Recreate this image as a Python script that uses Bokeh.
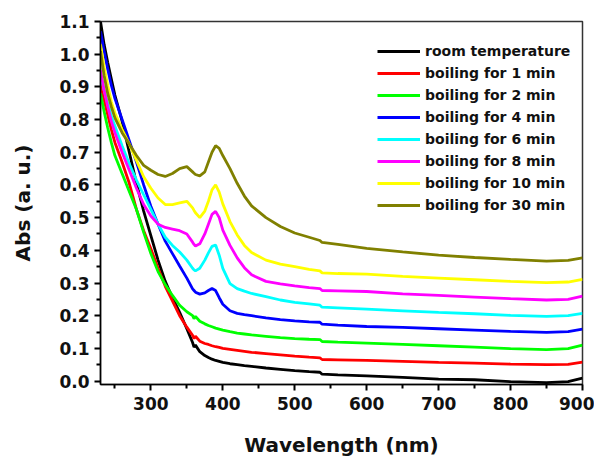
from bokeh.plotting import figure
from bokeh.models import Legend, LegendItem, FixedTicker, Range1d
from bokeh.embed import file_html
from bokeh.resources import INLINE

wavelength = [230, 235, 240, 245, 250, 260, 270, 280, 290, 300, 310, 320, 330, 340, 350,
              358, 360, 362, 368, 375, 380, 385, 390, 395, 400, 410, 420, 430, 440, 460,
              480, 500, 520, 535, 538, 560, 600, 650, 700, 750, 800, 850, 880, 900]

room_temperature = [1.10, 1.03, 0.975, 0.925, 0.875, 0.795, 0.70, 0.605, 0.52, 0.445, 0.37, 0.305,
                    0.255, 0.21, 0.16, 0.118, 0.104, 0.110, 0.090, 0.078, 0.072, 0.067, 0.063,
                    0.060, 0.057, 0.053, 0.050, 0.047, 0.045, 0.040, 0.036, 0.032, 0.029, 0.027,
                    0.021, 0.019, 0.016, 0.011, 0.006, 0.004, -0.002, -0.005, -0.002, 0.009]
boil_1 = [0.91, 0.86, 0.815, 0.77, 0.73, 0.67, 0.605, 0.525, 0.46, 0.405, 0.345, 0.29, 0.245,
          0.20, 0.165, 0.140, 0.130, 0.137, 0.122, 0.115, 0.112, 0.108, 0.105, 0.103, 0.100,
          0.097, 0.094, 0.091, 0.088, 0.084, 0.080, 0.076, 0.073, 0.071, 0.066, 0.065, 0.063,
          0.060, 0.057, 0.055, 0.052, 0.050, 0.051, 0.058]
boil_2 = [0.88, 0.825, 0.775, 0.73, 0.69, 0.635, 0.58, 0.525, 0.455, 0.39, 0.335, 0.295, 0.262,
          0.232, 0.212, 0.200, 0.191, 0.198, 0.183, 0.175, 0.170, 0.166, 0.162, 0.159, 0.156,
          0.151, 0.147, 0.144, 0.141, 0.137, 0.133, 0.130, 0.128, 0.127, 0.121, 0.119, 0.116,
          0.112, 0.108, 0.104, 0.099, 0.096, 0.099, 0.110]
boil_4 = [1.07, 1.01, 0.955, 0.905, 0.865, 0.80, 0.735, 0.67, 0.60, 0.535, 0.48, 0.428, 0.39,
          0.352, 0.315, 0.282, 0.277, 0.272, 0.266, 0.270, 0.277, 0.283, 0.277, 0.255, 0.235,
          0.215, 0.207, 0.203, 0.200, 0.193, 0.188, 0.184, 0.181, 0.180, 0.174, 0.171, 0.167,
          0.164, 0.160, 0.156, 0.152, 0.149, 0.151, 0.159]
boil_6 = [0.94, 0.89, 0.85, 0.81, 0.78, 0.72, 0.665, 0.615, 0.57, 0.525, 0.48, 0.44, 0.415,
          0.395, 0.37, 0.345, 0.340, 0.337, 0.345, 0.370, 0.392, 0.412, 0.416, 0.385, 0.345,
          0.298, 0.283, 0.275, 0.268, 0.258, 0.248, 0.241, 0.236, 0.232, 0.226, 0.224, 0.220,
          0.215, 0.210, 0.206, 0.201, 0.198, 0.200, 0.207]
boil_8 = [0.95, 0.89, 0.84, 0.795, 0.76, 0.70, 0.645, 0.59, 0.54, 0.505, 0.48, 0.47, 0.465,
          0.46, 0.45, 0.425, 0.418, 0.413, 0.420, 0.450, 0.480, 0.510, 0.519, 0.500, 0.462,
          0.415, 0.377, 0.347, 0.325, 0.305, 0.297, 0.291, 0.286, 0.283, 0.277, 0.276, 0.274,
          0.267, 0.262, 0.257, 0.252, 0.248, 0.250, 0.260]
boil_10 = [1.03, 0.96, 0.905, 0.855, 0.82, 0.77, 0.725, 0.675, 0.625, 0.59, 0.56, 0.54, 0.54,
           0.545, 0.55, 0.530, 0.522, 0.515, 0.500, 0.520, 0.550, 0.585, 0.600, 0.578, 0.542,
           0.488, 0.447, 0.415, 0.393, 0.370, 0.358, 0.350, 0.342, 0.337, 0.331, 0.329, 0.327,
           0.320, 0.315, 0.310, 0.305, 0.301, 0.303, 0.311]
boil_30 = [1.01, 0.935, 0.88, 0.84, 0.805, 0.76, 0.725, 0.69, 0.66, 0.645, 0.632, 0.626, 0.635,
           0.650, 0.656, 0.640, 0.636, 0.632, 0.628, 0.640, 0.670, 0.700, 0.720, 0.712, 0.690,
           0.650, 0.605, 0.566, 0.536, 0.500, 0.473, 0.453, 0.440, 0.430, 0.424, 0.418, 0.406,
           0.395, 0.385, 0.378, 0.372, 0.367, 0.369, 0.377]

series_labels = ["room temperature", "boiling for 1 min", "boiling for 2 min", "boiling for 4 min",
                 "boiling for 6 min", "boiling for 8 min", "boiling for 10 min", "boiling for 30 min"]
series_values = [room_temperature, boil_1, boil_2, boil_4, boil_6, boil_8, boil_10, boil_30]
series_colors = ["#000000", "#ff0000", "#00ff00", "#0000ff", "#00ffff", "#ff00ff", "#ffff00", "#808000"]

x_ticks = [300, 400, 500, 600, 700, 800, 900]
x_minor = [250, 350, 450, 550, 650, 750, 850]
y_ticks = [0.0, 0.1, 0.2, 0.3, 0.4, 0.5, 0.6, 0.7, 0.8, 0.9, 1.0, 1.1]
y_minor = [0.05, 0.15, 0.25, 0.35, 0.45, 0.55, 0.65, 0.75, 0.85, 0.95, 1.05]

FONT = "DejaVu Sans"

p = figure(width=594, height=459, output_backend="svg", toolbar_location=None,
           x_range=Range1d(230, 900), y_range=Range1d(-0.0105, 1.1),
           min_border_left=100, min_border_right=12, min_border_top=21, min_border_bottom=73)
p.grid.visible = False
p.outline_line_color = "#333333"
p.outline_line_width = 1.5
p.background_fill_color = "white"
p.border_fill_color = "white"

items = []
for lab, vals, col in zip(series_labels, series_values, series_colors):
    r = p.line(wavelength, vals, line_color=col, line_width=2.8)
    items.append(LegendItem(label=lab, renderers=[r]))

for ax in (p.xaxis[0], p.yaxis[0]):
    ax.axis_line_width = 1.5
    ax.axis_line_color = "#000000"
    ax.major_tick_line_width = 2
    ax.minor_tick_line_width = 2
    ax.major_tick_line_color = "#000000"
    ax.minor_tick_line_color = "#000000"
    ax.major_tick_in = 0
    ax.major_tick_out = 6
    ax.minor_tick_in = 0
    ax.minor_tick_out = 4
    ax.major_label_text_font = FONT
    ax.major_label_text_font_style = "bold"
    ax.major_label_text_font_size = "17px"
    ax.major_label_text_color = "#111111"
    ax.axis_label_text_font = FONT
    ax.axis_label_text_font_style = "bold"
    ax.axis_label_text_font_size = "20px"
    ax.axis_label_text_color = "#111111"

p.xaxis[0].ticker = FixedTicker(ticks=x_ticks, minor_ticks=x_minor)
p.yaxis[0].ticker = FixedTicker(ticks=y_ticks, minor_ticks=y_minor)
p.yaxis[0].major_label_overrides = {t: "%.1f" % t for t in y_ticks}
p.xaxis[0].major_label_overrides = {t: str(t) for t in x_ticks}
p.xaxis.axis_label = "Wavelength (nm)"
p.yaxis.axis_label = "Abs (a. u.)"
p.xaxis[0].major_label_standoff = 6
p.yaxis[0].major_label_standoff = 5
p.xaxis[0].axis_label_standoff = 20
p.yaxis[0].axis_label_standoff = 21

legend = Legend(items=items, location=(277, 168), orientation="vertical",
                label_text_font=FONT, label_text_font_style="bold", label_text_font_size="14px",
                label_text_color="#111111",
                glyph_width=43, glyph_height=22, label_height=22, label_standoff=5,
                spacing=0, padding=0, margin=0,
                background_fill_alpha=0, border_line_alpha=0)
p.add_layout(legend)

open("out.html", "w").write(file_html(p, INLINE))
